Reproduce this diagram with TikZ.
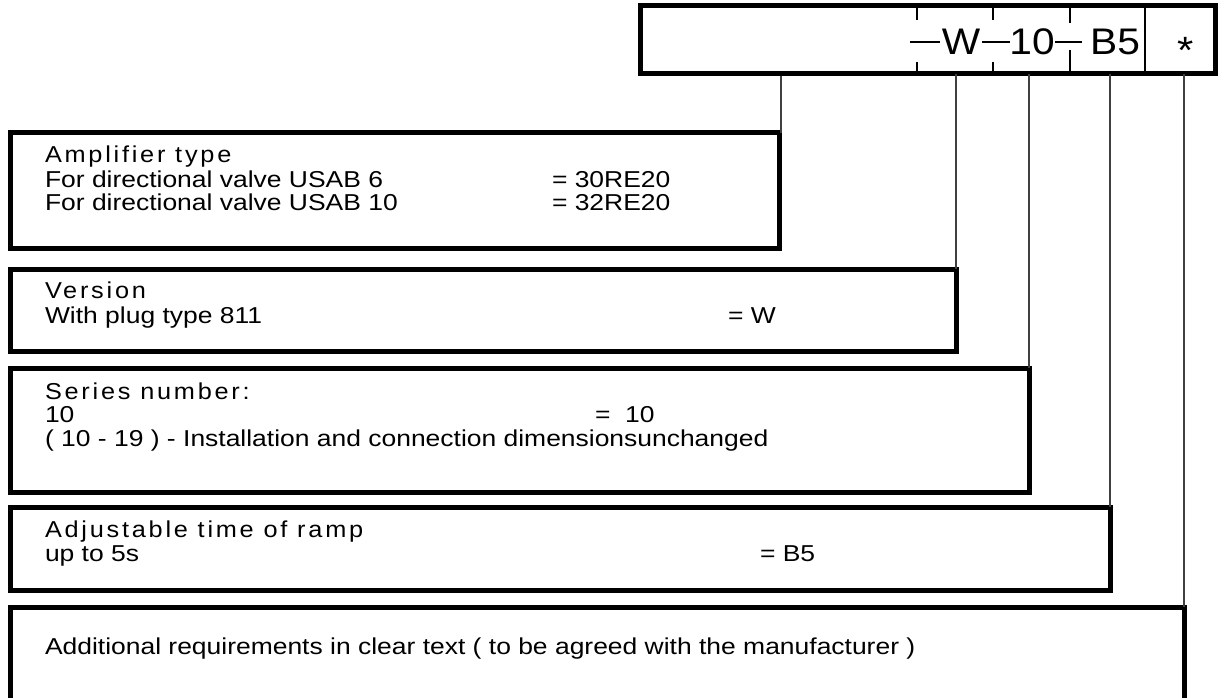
\documentclass[tikz,border=0pt]{standalone}
\usepackage{fontspec}
\setmainfont{Liberation Sans}[FakeStretch=1.15]
\newfontfamily\hdrfont{Liberation Sans}[FakeStretch=1.1,LetterSpace=12]
\newfontfamily\codefont{Liberation Sans}[FakeStretch=1.1]
\begin{document}
\begin{tikzpicture}[x=1pt,y=-1pt,
  thickbox/.style={draw=black,line width=5pt,outer sep=0pt,inner sep=0pt,fill=none},
  conn/.style={draw=black!75,line width=1.2pt},
  tickline/.style={draw=black,line width=1.5pt},
  txt/.style={anchor=base west,inner sep=0pt,outer sep=0pt,font=\fontsize{23}{24}\selectfont},
  hdr/.style={anchor=base west,inner sep=0pt,outer sep=0pt,font=\hdrfont\fontsize{23}{24}\selectfont},
  code/.style={anchor=base,inner sep=0pt,outer sep=0pt,font=\codefont\fontsize{37}{40}\selectfont}]
\useasboundingbox (0,0) rectangle (1226,698);
% top ordering code box
\node[thickbox,minimum width=575pt,minimum height=68pt] (top) at (928,40) {};
\node[thickbox,minimum width=769pt,minimum height=115pt] (b1) at (394.5,190.5) {};
\node[thickbox,minimum width=946pt,minimum height=82pt] (b2) at (483,310) {};
\node[thickbox,minimum width=1019pt,minimum height=124pt] (b3) at (519.5,430) {};
\node[thickbox,minimum width=1100pt,minimum height=83pt] (b4) at (560,548.5) {};
\node[thickbox,minimum width=1174pt,minimum height=113pt] (b5) at (597,663.5) {};
% separators inside top box
\coordinate (s1t) at (917,8.5); \coordinate (s1a) at (917,20);
\coordinate (s1b) at (917,62); \coordinate (s1c) at (917,71.5);
\coordinate (s2t) at (993,8.5); \coordinate (s2a) at (993,20);
\coordinate (s2b) at (993,62); \coordinate (s2c) at (993,71.5);
\coordinate (s3t) at (1070,8.5); \coordinate (s3a) at (1070,23);
\coordinate (s3b) at (1070,50); \coordinate (s3c) at (1070,71.5);
\coordinate (s4t) at (1145,8.5); \coordinate (s4c) at (1145,71.5);
\draw[tickline] (s1t) -- (s1a) (s1b) -- (s1c);
\draw[tickline] (s2t) -- (s2a) (s2b) -- (s2c);
\draw[tickline] (s3t) -- (s3a) (s3b) -- (s3c);
\draw[tickline] (s4t) -- (s4c);
\coordinate (d1a) at (910,42); \coordinate (d1b) at (940,42);
\coordinate (d2a) at (982,42); \coordinate (d2b) at (1010,42);
\coordinate (d3a) at (1055,42); \coordinate (d3b) at (1082,42);
\draw[tickline] (d1a) -- (d1b) (d2a) -- (d2b) (d3a) -- (d3b);
\node[code] (cW) at (961,55) {W};
\node[code] (c10) at (1032,55) {10};
\node[code] (cB5) at (1115,55) {B5};
\node[anchor=base,inner sep=0pt,font=\codefont\fontsize{38}{40}\selectfont] (cst) at (1185.5,64) {*};
% connectors
\coordinate (k1) at (781,76.5);
\coordinate (k1e) at (781,133);
\draw[conn] (k1) -- (k1e);
\draw[conn] (b2.north east |- top.south) -- (b2.north east);
\draw[conn] (b3.north east |- top.south) -- (b3.north east);
\draw[conn] (b4.north east |- top.south) -- (b4.north east);
\draw[conn] (b5.north east |- top.south) -- (b5.north east);
% box 1 text
\node[hdr] (t1a) at (45,163) {Amplifier type};
\node[txt] (t1b) at (45,187) {For directional valve USAB 6};
\node[txt] (t1c) at (45,210) {For directional valve USAB 10};
\node[txt] (t1d) at (552,187) {= 30RE20};
\node[txt] (t1e) at (552,210) {= 32RE20};
% box 2 text
\node[hdr] (t2a) at (45,298) {Version};
\node[txt] (t2b) at (45,323) {With plug type 811};
\node[txt] (t2c) at (728,323) {= W};
% box 3 text
\node[hdr] (t3a) at (45,399) {Series number:};
\node[txt] (t3b) at (45,422) {10};
\node[txt] (t3c) at (595,422) {=\ \ 10};
\node[txt] (t3d) at (45,446) {( 10 - 19 ) - Installation and connection dimensionsunchanged};
% box 4 text
\node[hdr] (t4a) at (45,537) {Adjustable time of ramp};
\node[txt] (t4b) at (45,561) {up to 5s};
\node[txt] (t4c) at (760,561) {= B5};
% box 5 text
\node[txt] (t5a) at (45,654) {Additional requirements in clear text ( to be agreed with the manufacturer )};
\end{tikzpicture}
\end{document}
